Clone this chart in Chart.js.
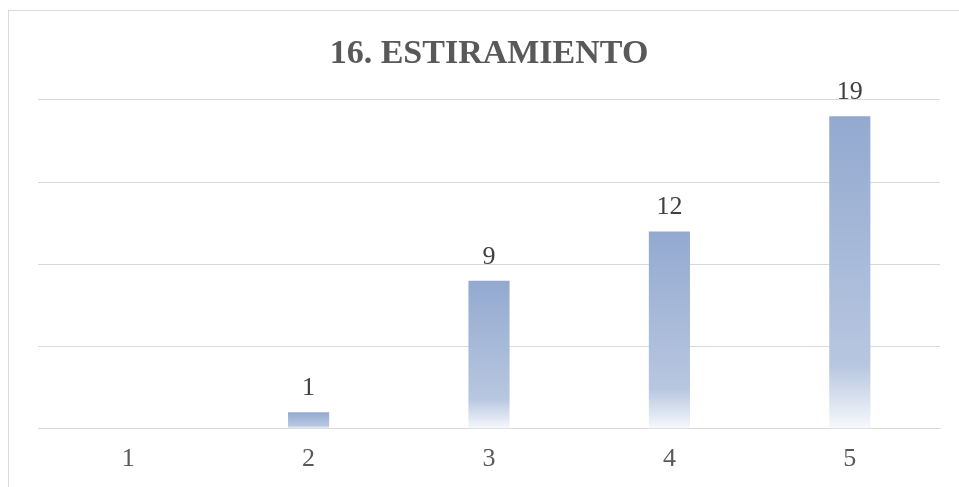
<!DOCTYPE html>
<html>
<head>
<meta charset="utf-8">
<script src="https://cdn.jsdelivr.net/npm/chart.js@4/dist/chart.umd.min.js"></script>
<style>
  html, body { margin: 0; padding: 0; background: #fff; overflow: hidden; }
  #frame { position: absolute; left: 8px; top: 10px; width: 1000px; height: 600px; border: 1px solid #d9d9d9; }
  #wrap { position: absolute; left: 0; top: 0; width: 959px; height: 487px; }
</style>
</head>
<body>
<div id="frame"></div>
<div id="wrap"><canvas id="chart"></canvas></div>
<script>
let categories = ['1', '2', '3', '4', '5'];
let values = [null, 1, 9, 12, 19];
let chartTitle = '16. ESTIRAMIENTO';
let yMax = 20;
let yStep = 5;

// gradient per bar: blue at top, fading to white at the base
function barGradient(context) {
    let chart = context.chart;
    let value = context.raw;
    if (!chart.chartArea || value == null) return '#94aad1';
    let yScale = chart.scales.y;
    let top = yScale.getPixelForValue(value);
    let base = yScale.getPixelForValue(0);
    if (base - top < 1) return '#94aad1';
    let g = chart.ctx.createLinearGradient(0, top, 0, base);
    g.addColorStop(0, '#93a9d0');
    g.addColorStop(0.8, '#b8c7e0');
    g.addColorStop(1, '#f7f9fc');
    return g;
}

// value labels above bars
let valueLabels = {
    id: 'valueLabels',
    afterDatasetsDraw(chart) {
        let ctx = chart.ctx;
        let meta = chart.getDatasetMeta(0);
        ctx.save();
        ctx.font = '26px "Liberation Serif", "Times New Roman", serif';
        ctx.fillStyle = '#404040';
        ctx.textAlign = 'center';
        ctx.textBaseline = 'alphabetic';
        meta.data.forEach((bar, i) => {
            let v = values[i];
            if (v == null) return;
            ctx.fillText(String(v), bar.x, bar.y - 17);
        });
        ctx.restore();
    }
};

let chart = new Chart(document.getElementById('chart'), {
    type: 'bar',
    data: {
        labels: categories,
        datasets: [{
            data: values,
            backgroundColor: barGradient,
            borderWidth: 0,
            barPercentage: 0.228,
            categoryPercentage: 1
        }]
    },
    options: {
        responsive: true,
        maintainAspectRatio: false,
        animation: false,
        events: [],
        layout: {
            padding: { left: 38, right: 19, top: 0, bottom: -3 }
        },
        plugins: {
            legend: { display: false },
            tooltip: { enabled: false },
            title: {
                display: true,
                text: chartTitle,
                color: '#595959',
                font: { family: '"Liberation Serif", "Times New Roman", serif', size: 34, weight: 'bold' },
                padding: { top: 34, bottom: 25 }
            }
        },
        scales: {
            x: {
                grid: { display: false, drawTicks: false },
                border: { display: true, color: '#d9d9d9', width: 1 },
                ticks: {
                    color: '#595959',
                    padding: 15,
                    font: { family: '"Liberation Serif", "Times New Roman", serif', size: 26 }
                }
            },
            y: {
                min: 0,
                max: yMax,
                ticks: { display: false, stepSize: yStep },
                grid: { color: '#d9d9d9', lineWidth: 1, drawTicks: false },
                border: { display: false }
            }
        }
    },
    plugins: [valueLabels]
});
</script>
</body>
</html>
